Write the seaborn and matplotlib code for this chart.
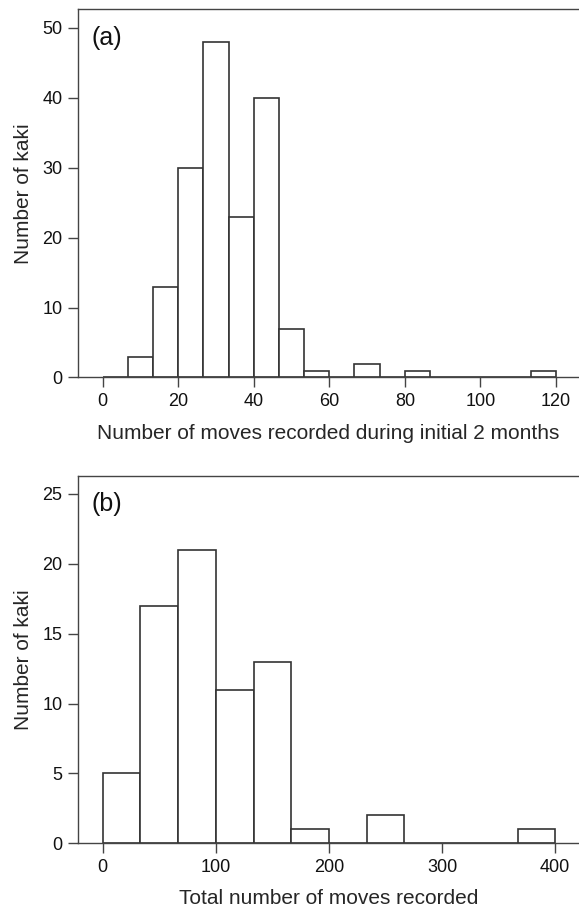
"""
Kaki movement histograms: (a) moves in the first 2 months, (b) total moves
"""
import numpy as np
import pandas as pd
import matplotlib
matplotlib.use("Agg")
import matplotlib.pyplot as plt
import seaborn as sns

# (a) moves recorded during initial 2 months, bin width 20/3
moves_2m_edges = [i * 20 / 3 for i in range(19)]
moves_2m_counts = [0, 3, 13, 30, 48, 23, 40, 7, 1, 0, 2, 0, 1, 0, 0, 0, 0, 1]

# (b) total number of moves recorded, bin width 100/3
moves_total_edges = [i * 100 / 3 for i in range(13)]
moves_total_counts = [5, 17, 21, 11, 13, 1, 0, 2, 0, 0, 0, 1]

x_ticks_a = [0, 20, 40, 60, 80, 100, 120]
y_ticks_a = [0, 10, 20, 30, 40, 50]
x_ticks_b = [0, 100, 200, 300, 400]
y_ticks_b = [0, 5, 10, 15, 20, 25]

sns.set_theme(style="ticks")
plt.rcParams["font.family"] = ["Liberation Sans", "DejaVu Sans"]

LINE = "#333333"
SPINE = "#444444"


def draw_hist(ax, edges, counts, xticks, yticks, xlim, ylim, xlabel, tag):
    edges = np.asarray(edges)
    df = pd.DataFrame({"moves": (edges[:-1] + edges[1:]) / 2, "n": counts})
    sns.histplot(data=df, x="moves", weights="n", bins=list(edges), ax=ax,
                 color="white", edgecolor=LINE, linewidth=1.2, alpha=1)
    ax.set_xlim(*xlim)
    ax.set_ylim(*ylim)
    ax.set_xticks(xticks)
    ax.set_yticks(yticks)
    ax.set_xlabel(xlabel, fontsize=15, labelpad=10)
    ax.set_ylabel("Number of kaki", fontsize=15, labelpad=7)
    ax.tick_params(axis="both", labelsize=13, length=7, width=1.0,
                   color=SPINE, labelcolor="#111111", direction="out", pad=4)
    for side in ["left", "top", "bottom"]:
        ax.spines[side].set_color(SPINE)
        ax.spines[side].set_linewidth(1.0)
    ax.spines["right"].set_visible(False)
    ax.text(0.027, 0.922, tag, transform=ax.transAxes, fontsize=18,
            ha="left", va="center", color="#111111")


fig = plt.figure(figsize=(5.79, 9.07), dpi=100)
ax_a = fig.add_axes([0.1342, 0.5838, 0.8658, 0.4063])
ax_b = fig.add_axes([0.1342, 0.0702, 0.8658, 0.4053])

draw_hist(ax_a, moves_2m_edges, moves_2m_counts, x_ticks_a, y_ticks_a,
          (-6.6, 126.1), (0, 52.7),
          "Number of moves recorded during initial 2 months", "(a)")
draw_hist(ax_b, moves_total_edges, moves_total_counts, x_ticks_b, y_ticks_b,
          (-22.1, 421), (0, 26.3),
          "Total number of moves recorded", "(b)")

fig.savefig("out.png", dpi=100)
plt.close(fig)
